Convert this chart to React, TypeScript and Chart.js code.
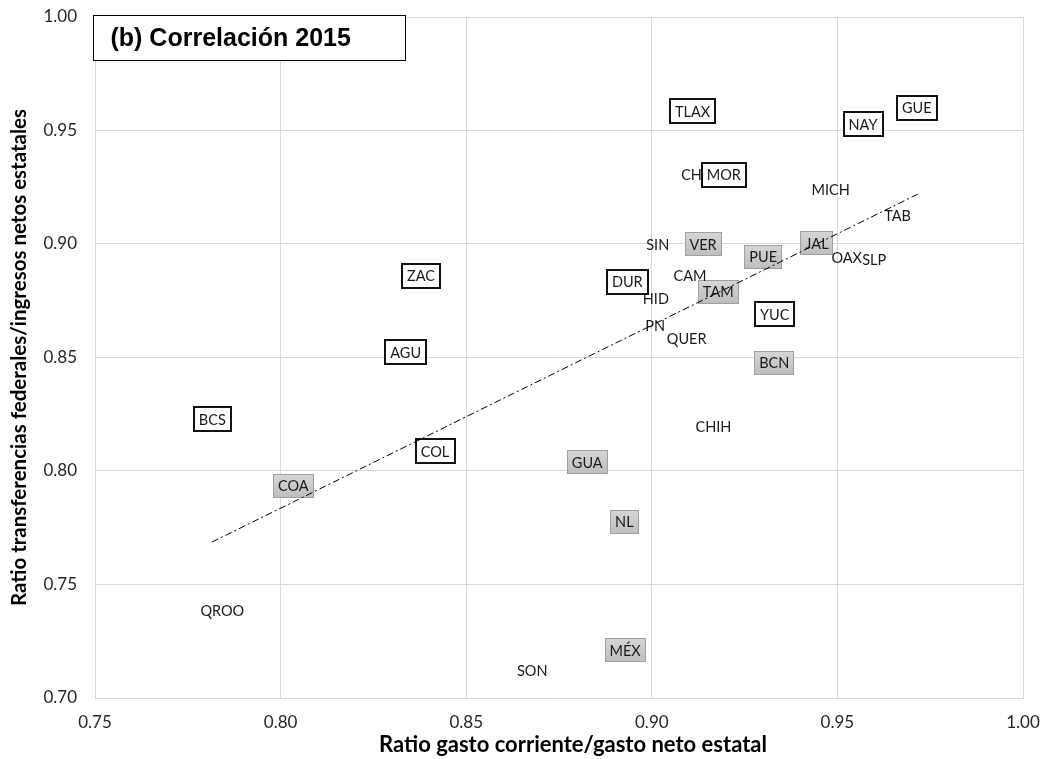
import { useEffect, useRef } from "react";
import { Chart, registerables } from "chart.js";
Chart.register(...registerables);

// State labels with white framed boxes
const whiteLabels = ["TLAX", "GUE", "NAY", "MOR", "DUR", "YUC", "ZAC", "AGU", "BCS", "COL"];
const whiteX = [0.911, 0.9714, 0.9569, 0.9194, 0.8934, 0.9331, 0.8378, 0.8337, 0.7816, 0.8416];
const whiteY = [0.9586, 0.96, 0.9529, 0.9305, 0.8834, 0.8692, 0.886, 0.8523, 0.8229, 0.8088];

// State labels with grey boxes
const greyLabels = ["VER", "JAL", "PUE", "TAM", "BCN", "COA", "GUA", "NL", "MÉX"];
const greyX = [0.9138, 0.9445, 0.93, 0.9179, 0.933, 0.8034, 0.8826, 0.8926, 0.8928];
const greyY = [0.9, 0.9004, 0.8944, 0.879, 0.8477, 0.7935, 0.804, 0.7777, 0.7211];

// State labels without boxes
const plainLabels = ["CH", "MICH", "TAB", "SIN", "OAX", "SLP", "CAM", "HID", "PN", "QUER", "CHIH", "SON", "QROO"];
const plainX = [0.9107, 0.9482, 0.9662, 0.9016, 0.9525, 0.9599, 0.9103, 0.9011, 0.9009, 0.9094, 0.9166, 0.8678, 0.7843];
const plainY = [0.9308, 0.9242, 0.9128, 0.9, 0.8941, 0.8933, 0.8863, 0.8761, 0.8643, 0.8585, 0.8198, 0.7123, 0.7388];

// Linear trend line end points
const trendX = [0.7815, 0.9717];
const trendY = [0.7687, 0.922];

const xTitle = "Ratio gasto corriente/gasto neto estatal";
const yTitle = "Ratio transferencias federales/ingresos netos estatales";
const chartTitle = "(b) Correlación 2015";

const LABEL_FONT = "14.5px Lato";

const labelPlugin = {
  id: "stateLabels",
  beforeDatasetsDraw(chart: any) {
    const ctx = chart.ctx;
    ctx.save();
    ctx.font = LABEL_FONT;
    ctx.textAlign = "center";
    ctx.textBaseline = "middle";
    chart.data.datasets.forEach((ds: any, di: number) => {
      if (!ds.boxKind) return;
      const meta = chart.getDatasetMeta(di);
      meta.data.forEach((pt: any, i: number) => {
        const text = ds.labels[i];
        const w = Math.round(ctx.measureText(text).width + 10);
        const h = 24;
        const x = Math.round(pt.x - w / 2);
        const y = Math.round(pt.y - h / 2);
        if (ds.boxKind === "white") {
          ctx.fillStyle = "#ffffff";
          ctx.fillRect(x, y, w, h);
          ctx.lineWidth = 2;
          ctx.strokeStyle = "#111111";
          ctx.strokeRect(x, y, w, h);
        } else if (ds.boxKind === "grey") {
          const g = ctx.createLinearGradient(0, y, 0, y + h);
          g.addColorStop(0, "#d6d6d6");
          g.addColorStop(1, "#bdbdbd");
          ctx.fillStyle = g;
          ctx.fillRect(x, y, w, h);
          ctx.lineWidth = 1;
          ctx.strokeStyle = "#a0a0a0";
          ctx.strokeRect(x + 0.5, y + 0.5, w - 1, h - 1);
        }
        ctx.fillStyle = "#1a1a1a";
        ctx.fillText(text, pt.x, pt.y + 1);
      });
    });
    ctx.restore();
  },
  afterDraw(chart: any) {
    const ctx = chart.ctx;
    const a = chart.chartArea;
    const bx = a.left - 1.5;
    const by = a.top - 1.5;
    const bw = 312;
    const bh = 45;
    ctx.save();
    ctx.fillStyle = "#ffffff";
    ctx.fillRect(bx, by, bw, bh);
    ctx.lineWidth = 1;
    ctx.strokeStyle = "#000000";
    ctx.strokeRect(bx, by, bw, bh);
    ctx.font = "bold 25px 'Liberation Sans'";
    ctx.fillStyle = "#000000";
    ctx.textAlign = "left";
    ctx.textBaseline = "middle";
    ctx.fillText(chartTitle, bx + 17, by + bh / 2 + 1);
    // x axis title
    ctx.font = "bold 22px Lato";
    ctx.textAlign = "center";
    ctx.fillText(xTitle, (a.left + a.right) / 2 + 14, a.bottom + 47);
    ctx.restore();
  },
};

function pts(xs: number[], ys: number[]) {
  return xs.map((x, i) => ({ x, y: ys[i] }));
}

export default function App() {
  const ref = useRef<HTMLCanvasElement | null>(null);
  useEffect(() => {
    if (!ref.current) return;
    const chart = new Chart(ref.current, {
      type: "scatter",
      data: {
        datasets: [
          {
            label: "white",
            data: pts(whiteX, whiteY),
            pointRadius: 0,
            boxKind: "white",
            labels: whiteLabels,
          } as any,
          {
            label: "grey",
            data: pts(greyX, greyY),
            pointRadius: 0,
            boxKind: "grey",
            labels: greyLabels,
          } as any,
          {
            label: "plain",
            data: pts(plainX, plainY),
            pointRadius: 0,
            boxKind: "plain",
            labels: plainLabels,
          } as any,
          {
            type: "line",
            label: "trend",
            data: pts(trendX, trendY),
            showLine: true,
            pointRadius: 0,
            borderColor: "#000000",
            borderWidth: 1,
            borderDash: [7, 3, 2, 3],
            fill: false,
          } as any,
        ],
      },
      options: {
        animation: false,
        responsive: false,
        layout: { padding: { top: 17, right: 24, left: 0, bottom: 0 } },
        plugins: {
          legend: { display: false },
          tooltip: { enabled: false },
          title: { display: false },
        },
        scales: {
          x: {
            type: "linear",
            min: 0.75,
            max: 1.0,
            afterFit: (s: any) => {
              s.height = 61;
              s.paddingLeft = 0;
              s.paddingRight = 0;
            },
            ticks: {
              stepSize: 0.05,
              padding: 14,
              color: "#262626",
              font: { family: "Lato", size: 17 },
              callback: (v: any) => Number(v).toFixed(2),
            },
            grid: { color: "#d9d9d9", drawTicks: false },
            border: { color: "#d9d9d9" },
            title: { display: false },
          },
          y: {
            type: "linear",
            min: 0.7,
            max: 1.0,
            afterFit: (s: any) => {
              s.width = 95;
              s.paddingTop = 0;
              s.paddingBottom = 0;
            },
            ticks: {
              stepSize: 0.05,
              padding: 18,
              color: "#262626",
              font: { family: "Lato", size: 17 },
              callback: (v: any) => Number(v).toFixed(2),
            },
            grid: { color: "#d9d9d9", drawTicks: false },
            border: { color: "#d9d9d9" },
            title: {
              display: true,
              text: yTitle,
              color: "#000000",
              font: { family: "Lato", size: 20.5, weight: "bold" },
              padding: { top: 7, bottom: 0 },
            },
          },
        },
      },
      plugins: [labelPlugin],
    });
    return () => chart.destroy();
  }, []);
  return (
    <div style={{ position: "absolute", left: 0, top: 0, width: 1047, height: 759 }}>
      <canvas ref={ref} width={1047} height={759} style={{ display: "block" }} />
    </div>
  );
}
